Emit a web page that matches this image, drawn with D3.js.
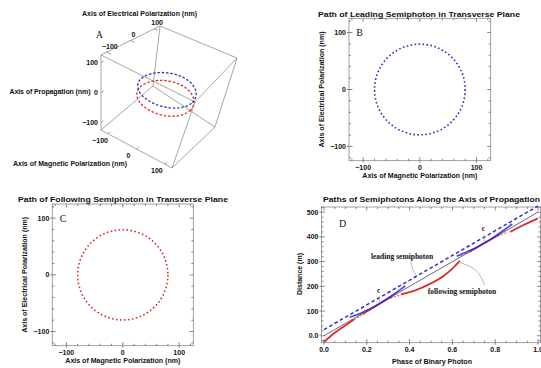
<!DOCTYPE html>
<html>
<head>
<meta charset="utf-8">
<script src="https://cdn.jsdelivr.net/npm/d3@7"></script>
<style>
  body { margin: 0; background: #fff; }
  svg { display: block; }
  text { font-family: Arial, "Liberation Sans", sans-serif; fill: #111; }
  .serif { font-family: "Liberation Serif", "Times New Roman", serif; }
</style>
</head>
<body>
<svg id="chart" width="541" height="368"></svg>
<script>
// ---- data ----
const transverseDomain = [-125, 125];
const transverseTicks = [-100, 0, 100];
const orbitRadius = 80;               // nm, radius of both semiphoton orbits
const leadingLevel = 15;              // nm along propagation axis (panel A)
const followingLevel = -15;

const phaseTicks = [0, 0.2, 0.4, 0.6, 0.8, 1.0];
const distanceTicks = [0, 100, 200, 300, 400, 500];
const centerLine = [[0, 0], [1, 500]];
const leadingMean = [[0, 25], [1, 525]];
const leadingArcs = [
  [[0.12, 75], [0.16, 87], [0.2, 103], [0.25, 125]],
  [[0.25, 125], [0.3, 153], [0.34, 176], [0.38, 202]],
  [[0.62, 322], [0.66, 337], [0.7, 352], [0.75, 375]],
  [[0.75, 375], [0.8, 403], [0.84, 427], [0.88, 452]]
];
const followingArcs = [
  [[0, -25], [0.05, 12], [0.1, 42], [0.14, 66]],
  [[0.18, 88], [0.25, 125], [0.32, 160]],
  [[0.36, 168], [0.42, 182], [0.5, 212], [0.56, 243], [0.6, 272], [0.635, 303]],
  [[0.68, 340], [0.75, 375], [0.82, 410]],
  [[0.87, 420], [0.93, 447], [1, 475]]
];
const followingGaps = [
  [[0.14, 66], [0.19, 90]],
  [[0.31, 152], [0.36, 166]],
  [[0.64, 322], [0.69, 342]],
  [[0.81, 404], [0.86, 420]]
];
const notes = [
  { text: 'leading semiphoton', at: [0.365, 312], leader: [[0.405, 300], [0.41, 275], [0.43, 246]] },
  { text: 'following semiphoton', at: [0.645, 168], leader: [[0.628, 298], [0.72, 272], [0.75, 205]] },
  { text: 'c', at: [0.255, 172], leader: [[0.258, 160], [0.26, 145], [0.262, 132]] },
  { text: 'c', at: [0.745, 422], leader: [[0.748, 410], [0.749, 395], [0.75, 378]] }
];

const BLUE = '#2f2fc4', RED = '#d6302c', GRAY = '#8a8a8a';
const svg = d3.select('#chart');

// ---- helpers ----
function frameAxes(g, x, y, xt, yt, xMinor, yMinor, fmt) {
  const [x0, x1] = x.range(), [y0, y1] = y.range();
  g.append('rect').attr('x', x0).attr('y', y1).attr('width', x1 - x0).attr('height', y0 - y1)
    .attr('fill', 'none').attr('stroke', GRAY).attr('stroke-width', 0.8);
  const tk = g.append('g').attr('stroke', '#555').attr('stroke-width', 0.7);
  xMinor.forEach(v => {
    const len = xt.includes(v) ? 3.5 : 2;
    tk.append('line').attr('x1', x(v)).attr('x2', x(v)).attr('y1', y0).attr('y2', y0 - len);
    tk.append('line').attr('x1', x(v)).attr('x2', x(v)).attr('y1', y1).attr('y2', y1 + len);
  });
  yMinor.forEach(v => {
    const len = yt.includes(v) ? 3.5 : 2;
    tk.append('line').attr('y1', y(v)).attr('y2', y(v)).attr('x1', x0).attr('x2', x0 + len);
    tk.append('line').attr('y1', y(v)).attr('y2', y(v)).attr('x1', x1).attr('x2', x1 - len);
  });
  xt.forEach(v => tk.append('line').attr('x1', x(v)).attr('x2', x(v)).attr('y1', y0).attr('y2', y0 + 2));
  yt.forEach(v => tk.append('line').attr('y1', y(v)).attr('y2', y(v)).attr('x1', x0).attr('x2', x0 - 2));
  g.append('g').selectAll('text').data(xt).join('text')
    .attr('x', d => x(d)).attr('y', y0 + 9).attr('text-anchor', 'middle')
    .attr('font-size', 7).attr('font-weight', 'bold').text(fmt);
  g.append('g').selectAll('text').data(yt).join('text')
    .attr('x', x0 - 3).attr('y', d => y(d) + 2.5).attr('text-anchor', 'end')
    .attr('font-size', 7).attr('font-weight', 'bold').text(fmt);
}

function label(g, txt, x, y, w, opts = {}) {
  const t = g.append('text').attr('x', x).attr('y', y).attr('text-anchor', 'middle')
    .attr('font-size', opts.size || 7.5).attr('font-weight', 'bold')
    .attr('textLength', w).attr('lengthAdjust', 'spacingAndGlyphs').text(txt);
  if (opts.rotate) t.attr('transform', `rotate(-90,${x},${y})`);
  return t;
}

const tfmt = d => d3.format('d')(d).replace('-', '\u2212');

// ---- panels B and C: transverse plane ----
function transversePanel(box, title, titleBox, letter, color) {
  const g = svg.append('g');
  const x = d3.scaleLinear().domain(transverseDomain).range([box.x0, box.x1]);
  const y = d3.scaleLinear().domain(transverseDomain).range([box.y0, box.y1]);
  const minor = d3.range(-120, 121, 20);
  frameAxes(g, x, y, transverseTicks, transverseTicks, minor, minor, tfmt);
  g.append('circle').attr('cx', x(0)).attr('cy', y(0)).attr('r', x(orbitRadius) - x(0))
    .attr('fill', 'none').attr('stroke', color).attr('stroke-width', 1.6)
    .attr('stroke-dasharray', '1.6,2.4');
  label(g, title, titleBox[0], titleBox[1], titleBox[2], { size: 8 });
  label(g, 'Axis of Magnetic Polarization (nm)', (box.x0 + box.x1) / 2, box.y0 + 17.5, 115);
  label(g, 'Axis of Electrical Polarization (nm)', box.x0 - 25, (box.y0 + box.y1) / 2, 116, { rotate: true, size: 7 });
  g.append('text').attr('class', 'serif').attr('x', x(-112)).attr('y', y(100) + 3.5)
    .attr('font-size', 10).text(letter);
}

transversePanel({ x0: 349, x1: 490.7, y0: 160.7, y1: 18.3 },
  'Path of Leading Semiphoton in Transverse Plane', [419, 17, 202], 'B', BLUE);
transversePanel({ x0: 52.3, x1: 193.3, y0: 345.7, y1: 204 },
  'Path of Following Semiphoton in Transverse Plane', [123, 201.5, 210], 'C', RED);

// ---- panel A: 3D box (trilinear map of the box corners on screen) ----
(function () {
  const g = svg.append('g');
  const unit = d3.scaleLinear().domain(transverseDomain).range([0, 1]);
  // screen position of each box corner, keyed by sign of (magnetic, electrical, propagation)
  const corner = {
    '---': [101, 130], '-+-': [153, 86], '++-': [215, 127], '+--': [172, 168],
    '--+': [101, 55], '-++': [160, 26], '+++': [237, 58], '+-+': [195, 102]
  };
  const lerp = (a, b, t) => [a[0] + (b[0] - a[0]) * t, a[1] + (b[1] - a[1]) * t];
  function project(p) {
    const [u, v, w] = p.map(unit);
    const face = s => lerp(lerp(corner['--' + s], corner['+-' + s], u), lerp(corner['-+' + s], corner['++' + s], u), v);
    return lerp(face('-'), face('+'), w);
  }
  const edges = [['---', '+--'], ['+--', '++-'], ['++-', '-+-'], ['-+-', '---'],
    ['--+', '+-+'], ['+-+', '+++'], ['+++', '-++'], ['-++', '--+'],
    ['---', '--+'], ['+--', '+-+'], ['++-', '+++'], ['-+-', '-++']];
  g.append('g').selectAll('line').data(edges).join('line')
    .attr('x1', d => corner[d[0]][0]).attr('y1', d => corner[d[0]][1])
    .attr('x2', d => corner[d[1]][0]).attr('y2', d => corner[d[1]][1])
    .attr('stroke', '#808080').attr('stroke-width', 0.7);

  const lo = transverseDomain[0], hi = transverseDomain[1];
  const axes = [
    { pt: v => [lo, v, hi], tip: v => [lo + 12, v, hi], dx: 3, dy: -3.5, anchor: 'middle' },   // electrical
    { pt: v => [lo, lo, v], tip: v => [lo, lo + 12, v], dx: -3, dy: 2.5, anchor: 'end' },      // propagation
    { pt: v => [v, lo, lo], tip: v => [v, lo + 12, lo], dx: -8, dy: 9, anchor: 'middle' }     // magnetic
  ];
  axes.forEach(a => {
    transverseTicks.forEach(v => {
      const p = project(a.pt(v)), q = project(a.tip(v));
      g.append('line').attr('x1', p[0]).attr('y1', p[1]).attr('x2', q[0]).attr('y2', q[1])
        .attr('stroke', '#666').attr('stroke-width', 0.6);
      g.append('text').attr('x', p[0] + a.dx).attr('y', p[1] + a.dy).attr('text-anchor', a.anchor)
        .attr('font-size', 7).attr('font-weight', 'bold').text(tfmt(v));
    });
  });

  const angles = d3.range(0, 361, 5).map(d => d * Math.PI / 180);
  const ring = z => angles.map(t => project([orbitRadius * Math.cos(t), orbitRadius * Math.sin(t), z]));
  const line = d3.line();
  g.append('path').attr('d', line(ring(followingLevel))).attr('fill', 'none')
    .attr('stroke', RED).attr('stroke-width', 1.3).attr('stroke-dasharray', '2.5,1.8');
  g.append('path').attr('d', line(ring(leadingLevel))).attr('fill', 'none')
    .attr('stroke', BLUE).attr('stroke-width', 1.3).attr('stroke-dasharray', '2.5,1.8');

  label(g, 'Axis of Electrical Polarization (nm)', 139.5, 15.5, 115, { size: 7 });
  g.append('text').attr('x', 90.5).attr('y', 93.5).attr('text-anchor', 'end')
    .attr('font-size', 7).attr('font-weight', 'bold').attr('textLength', 81).text('Axis of Propagation (nm)');
  label(g, 'Axis of Magnetic Polarization (nm)', 70, 165.5, 114, { size: 7 });
  g.append('text').attr('class', 'serif').attr('x', 96).attr('y', 38).attr('font-size', 9.5).text('A');
})();

// ---- panel D: paths along the axis of propagation ----
(function () {
  const g = svg.append('g');
  const x = d3.scaleLinear().domain([-0.0117, 1.0117]).range([321.5, 540.5]);
  const y = d3.scaleLinear().domain([-28, 521]).range([342.7, 207]);
  frameAxes(g, x, y, phaseTicks, distanceTicks, d3.range(0, 1.001, 0.05).map(d => +d.toFixed(2)),
    d3.range(-20, 521, 20), d => Number.isInteger(d) && d > 1 ? d : d3.format('.1f')(d));
  const line = d3.line().x(d => x(d[0])).y(d => y(d[1]));
  const curve = d3.line().x(d => x(d[0])).y(d => y(d[1])).curve(d3.curveMonotoneX);
  const plot = g.append('g');
  plot.append('path').attr('d', line(centerLine)).attr('stroke', '#444').attr('stroke-width', 0.8).attr('fill', 'none');
  plot.append('path').attr('d', line(leadingMean)).attr('stroke', BLUE).attr('stroke-width', 1.5)
    .attr('stroke-dasharray', '3.5,2.6').attr('fill', 'none');
  plot.selectAll('.gap').data(followingGaps).join('path').attr('class', 'gap').attr('d', line)
    .attr('stroke', '#e0602a').attr('stroke-width', 1.1).attr('stroke-dasharray', '2,1.6').attr('fill', 'none');
  plot.selectAll('.fol').data(followingArcs).join('path').attr('class', 'fol').attr('d', curve)
    .attr('stroke', RED).attr('stroke-width', 1.8).attr('fill', 'none');
  plot.selectAll('.lead').data(leadingArcs).join('path').attr('class', 'lead').attr('d', curve)
    .attr('stroke', '#2626e6').attr('stroke-width', 1.7).attr('stroke-opacity', 0.85).attr('fill', 'none');

  const leader = d3.line().x(d => x(d[0])).y(d => y(d[1])).curve(d3.curveBasis);
  g.selectAll('.leader').data(notes).join('path').attr('class', 'leader').attr('d', d => leader(d.leader))
    .attr('stroke', '#999').attr('stroke-width', 0.7).attr('fill', 'none');
  g.selectAll('.note').data(notes).join('text').attr('class', 'note serif')
    .attr('x', d => x(d.at[0])).attr('y', d => y(d.at[1])).attr('text-anchor', 'middle')
    .attr('font-size', 7.5).attr('font-weight', 'bold').text(d => d.text);

  label(g, 'Paths of Semiphotons Along the Axis of Propagation', 431.5, 201.5, 217, { size: 8 });
  label(g, 'Phase of Binary Photon', 432, 363.5, 80);
  label(g, 'Distance (m)', 302, 274, 42, { rotate: true, size: 7 });
  g.append('text').attr('class', 'serif').attr('x', x(0.07)).attr('y', y(440)).attr('font-size', 10).text('D');
})();
</script>
</body>
</html>
